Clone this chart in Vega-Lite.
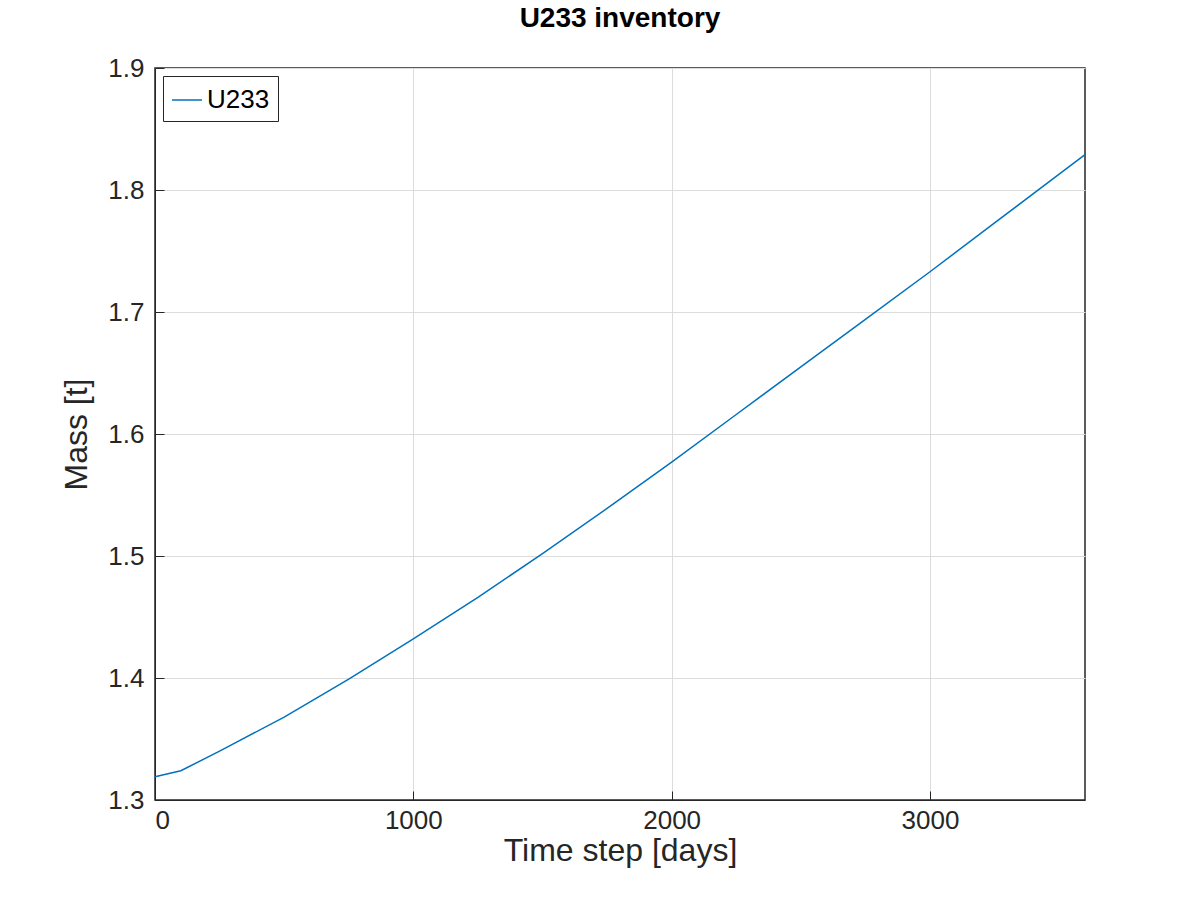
{
"$schema":"https://vega.github.io/schema/vega-lite/v6.json",
"width":930,"height":732,
"autosize":{"type":"none"},
"padding":{"left":155,"top":68,"right":115,"bottom":100},
"background":"white",
"title":{"text":"U233 inventory","font":"Liberation Sans","fontSize":28,"fontWeight":"bold","color":"#000","offset":22},
"config":{"view":{"stroke":"#262626","strokeWidth":1.5},"font":"Liberation Sans"},
"data":{"values":[
{"t":0,"m":1.319,"s":"U233"},{"t":100,"m":1.324,"s":"U233"},{"t":250,"m":1.340,"s":"U233"},
{"t":500,"m":1.368,"s":"U233"},{"t":750,"m":1.399,"s":"U233"},{"t":1000,"m":1.432,"s":"U233"},
{"t":1250,"m":1.466,"s":"U233"},{"t":1500,"m":1.502,"s":"U233"},{"t":1750,"m":1.539,"s":"U233"},
{"t":2000,"m":1.577,"s":"U233"},{"t":2250,"m":1.616,"s":"U233"},{"t":2500,"m":1.655,"s":"U233"},
{"t":2750,"m":1.694,"s":"U233"},{"t":3000,"m":1.733,"s":"U233"},{"t":3250,"m":1.773,"s":"U233"},
{"t":3500,"m":1.813,"s":"U233"},{"t":3600,"m":1.829,"s":"U233"}]},
"mark":{"type":"line","strokeWidth":1.5},
"encoding":{
"x":{"field":"t","type":"quantitative","scale":{"domain":[0,3600],"nice":false},
 "axis":{"title":"Time step [days]","values":[0,1000,2000,3000],"format":"d","tickSize":-9,"labelPadding":16,"domainColor":"#262626","tickColor":"#262626","gridColor":"#dcdcdc","labelFontSize":26,"labelColor":"#262626","titleFontSize":32,"titleFontWeight":"normal","titleColor":"#262626","titlePadding":2}},
"y":{"field":"m","type":"quantitative","scale":{"domain":[1.3,1.9],"nice":false,"zero":false},
 "axis":{"title":"Mass [t]","values":[1.3,1.4,1.5,1.6,1.7,1.8,1.9],"format":".1f","tickSize":-9,"labelPadding":20,"domainColor":"#262626","tickColor":"#262626","gridColor":"#dcdcdc","labelFontSize":26,"labelColor":"#262626","titleFontSize":32,"titleFontWeight":"normal","titleColor":"#262626","titlePadding":14}},
"color":{"field":"s","type":"nominal","scale":{"range":["#0072bd"]},
 "legend":{"title":null,"orient":"top-left","offset":8,"symbolType":"stroke","symbolSize":900,"symbolStrokeWidth":1.5,"labelFontSize":26,"labelColor":"#000","strokeColor":"#262626","fillColor":"white","padding":8}}
}
}
